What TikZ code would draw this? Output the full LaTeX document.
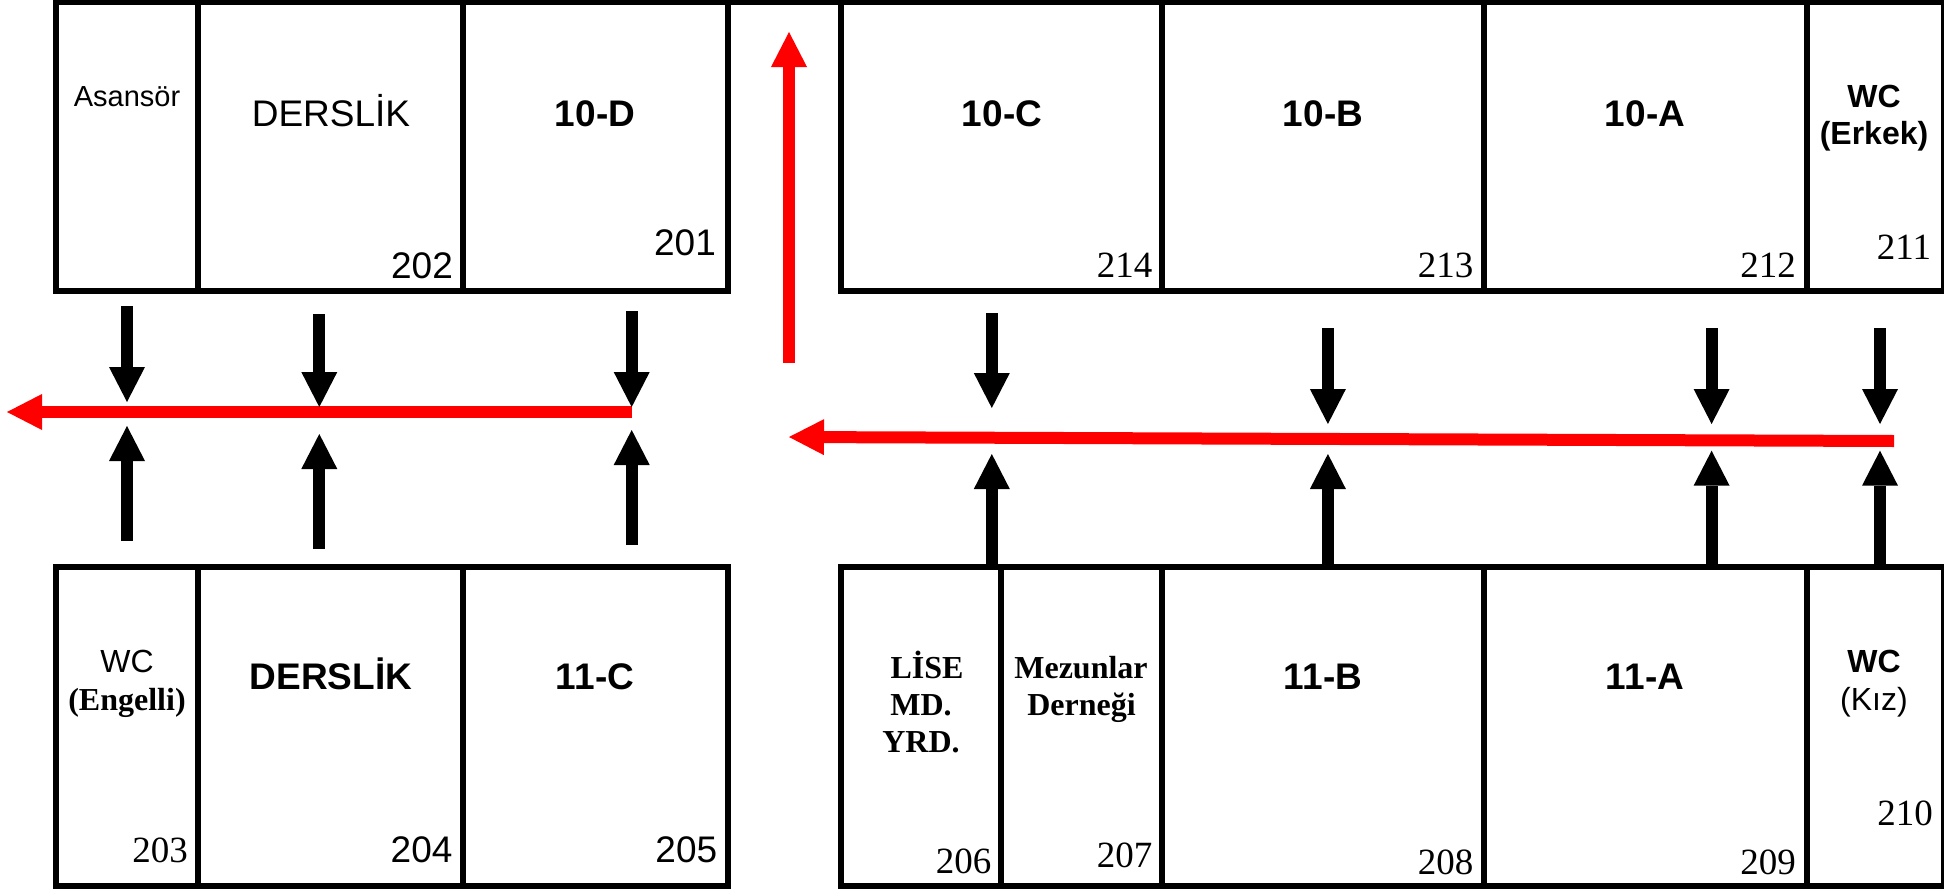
\documentclass[tikz,border=0pt]{standalone}
\usepackage{fontspec}
\usetikzlibrary{arrows.meta}
\setmainfont{Liberation Sans}
\newfontfamily\serifface{Liberation Serif}
\newcommand{\fs}[1]{\fontsize{#1}{#1}\selectfont}
\tikzset{
  room/.style={draw=black,line width=6pt,fill=white,inner sep=0pt,outer sep=0pt},
  lab/.style={anchor=base,inner sep=0pt,outer sep=0pt},
  big/.style={lab,font=\fs{37}},
  bigb/.style={lab,font=\fs{37}\bfseries},
  midb/.style={lab,font=\fs{32}\bfseries},
  mid/.style={lab,font=\fs{32}},
  small/.style={lab,font=\fs{29}},
  ser/.style={lab,font=\fs{37}\serifface},
  serb/.style={lab,font=\fs{32}\serifface\bfseries},
  blk/.style={draw=black,line width=12pt,-{Triangle[length=35pt,width=36pt,line width=0pt]}},
  rd/.style={draw=red,color=red,line width=12pt,-{Triangle[length=35pt,width=36pt,line width=0pt]}}
}
\newcommand{\roombox}[5]{\node[room,minimum width={(#3-#2)*1pt},minimum height={(#5-#4)*1pt}] (#1) at ({(#2+#3)/2},{(#4+#5)/2}) {};}
\newcommand{\arrowto}[6][blk]{\coordinate (#2s) at (#3,#4); \coordinate (#2e) at (#5,#6); \draw[#1] (#2s) -- (#2e);}
\begin{document}
\begin{tikzpicture}[x=1pt,y=-1pt]
\useasboundingbox (0,0) rectangle (1944,889);
% top rooms
\roombox{asansor}{55.5}{198.2}{1.8}{291}
\roombox{dtop}{198.2}{463}{1.8}{291}
\roombox{tenD}{463}{728}{1.8}{291}
\roombox{tenC}{841}{1161.7}{1.8}{291}
\roombox{tenB}{1161.7}{1484}{1.8}{291}
\roombox{tenA}{1484}{1806.5}{1.8}{291}
\roombox{wcE}{1806.5}{1944.4}{1.8}{291}
\draw[line width=6pt] (tenD.north east) -- (tenC.north west);
% bottom rooms
\roombox{wcEng}{55.5}{198.2}{567}{886}
\roombox{dbot}{198.2}{463}{567}{886}
\roombox{elevC}{463}{728}{567}{886}
\roombox{lise}{841}{1001}{567}{886}
\roombox{mez}{1001}{1161.7}{567}{886}
\roombox{elevB}{1161.7}{1484}{567}{886}
\roombox{elevA}{1484}{1806.5}{567}{886}
\roombox{wcK}{1806.5}{1944.4}{567}{886}
% top labels
\node[small] (t1) at (127,106) {Asansör};
\node[big] (t2) at (331,126) {DERSLİK};
\node[bigb] (t3) at (595,126) {10-D};
\node[big] (n202) at (422,278.7) {202};
\node[big] (n201) at (685,255) {201};
\node[bigb] (t4) at (1002,126) {10-C};
\node[bigb] (t5) at (1323,126) {10-B};
\node[bigb] (t6) at (1645,126) {10-A};
\node[midb] (t7) at (1874,107.3) {WC};
\node[midb] (t8) at (1874,144.3) {(Erkek)};
\node[ser] (n214) at (1124.7,277.7) {214};
\node[ser] (n213) at (1445.7,277.7) {213};
\node[ser] (n212) at (1768,277.7) {212};
\node[ser] (n211) at (1904,259.7) {211};
% bottom labels
\node[mid] (b1) at (127,672.7) {WC};
\node[serb] (b2) at (127,710) {(Engelli)};
\node[bigb] (b3) at (331,689) {DERSLİK};
\node[bigb] (b4) at (595,689) {11-C};
\node[ser] (n203) at (160,862) {203};
\node[big] (n204) at (421.6,862) {204};
\node[big] (n205) at (686.3,862) {205};
\node[serb] (b5) at (927,678.7) {LİSE};
\node[serb] (b6) at (921,715.7) {MD.};
\node[serb] (b7) at (921,752.7) {YRD.};
\node[serb] (b8) at (1081,678.7) {Mezunlar};
\node[serb] (b9) at (1081.5,715.7) {Derneği};
\node[ser] (n206) at (963.5,873.3) {206};
\node[ser] (n207) at (1124.5,867.7) {207};
\node[ser] (n208) at (1445.7,874) {208};
\node[ser] (n209) at (1768,874) {209};
\node[ser] (n210) at (1905,825) {210};
\node[bigb] (b10) at (1323,689) {11-B};
\node[bigb] (b11) at (1645,689) {11-A};
\node[midb] (b12) at (1874,672.7) {WC};
\node[mid] (b13) at (1874,710) {(Kız)};
% red arrows
\arrowto[rd]{r1}{631.7}{412}{7}{412}
\arrowto[rd]{r2}{789}{363}{789}{32}
\arrowto[rd]{r3}{1894}{441}{789}{437}
% black arrows, down
\arrowto{d1}{127}{306}{127}{402}
\arrowto{d2}{319.3}{314}{319.3}{407}
\arrowto{d3}{631.7}{311}{631.7}{407}
\arrowto{d4}{991.8}{313}{991.8}{408}
\arrowto{d5}{1327.9}{328}{1327.9}{424}
\arrowto{d6}{1711.6}{328}{1711.6}{424}
\arrowto{d7}{1880}{328}{1880}{424}
% black arrows, up
\arrowto{u1}{127}{540.7}{127}{426}
\arrowto{u2}{319.3}{548.7}{319.3}{434}
\arrowto{u3}{631.7}{545}{631.7}{430}
\arrowto{u4}{991.8}{567}{991.8}{454}
\arrowto{u5}{1327.9}{567}{1327.9}{454}
\arrowto{u6}{1711.6}{567}{1711.6}{450.7}
\arrowto{u7}{1880}{567}{1880}{450.7}
\end{tikzpicture}
\end{document}
